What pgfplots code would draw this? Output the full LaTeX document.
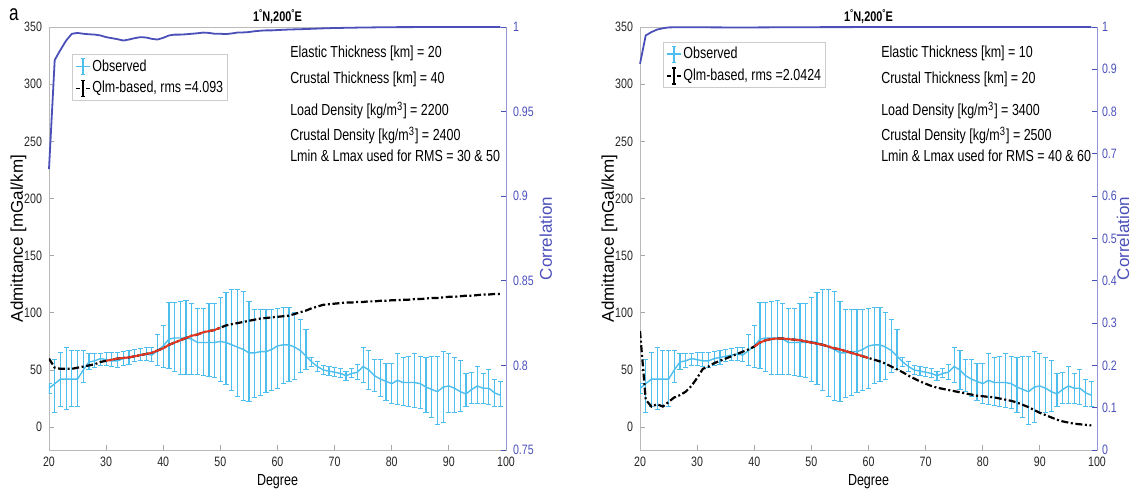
\documentclass[border=0pt]{standalone}
\usepackage{pgfplots}
\pgfplotsset{compat=1.18}
\usepackage{pgfplotstable}
\usepackage{fontspec}
\setmainfont[FakeStretch=0.78]{Liberation Sans}
\newfontfamily\ylabfont{Liberation Sans}
\definecolor{obs}{RGB}{77,190,238}
\definecolor{corr}{RGB}{75,80,185}
\definecolor{fitred}{RGB}{225,55,35}

\pgfplotstableread{
x y lo hi
20 34 29 38
21 38 13 59
22 42 18 65
23 42 15 70
24 42 18 67
25 42 18 67
26 50 39 67
27 57 50 64
28 58 52 64
29 60 54 64
30 59 54 65
31 58 53 65
32 58 52 65
33 60 54 66
34 61 55 67
35 62 57 68
36 63 58 69
37 64 58 70
38 63 57 70
39 67 54 81
40 71 52 89
41 77 51 109
42 78 49 109
43 78 46 110
44 78 46 111
45 77 46 108
46 74 46 104
47 74 45 104
48 74 44 108
49 74 43 108
50 75 40 113
51 74 37 118
52 72 32 120
53 70 27 120
54 68 23 119
55 65 22 110
56 65 26 103
57 66 28 103
58 66 30 103
59 68 32 103
60 71 34 104
61 72 38 105
62 72 40 105
63 70 42 100
64 67 48 94
65 62 50 85
66 57 53 61
67 53 49 57
68 50 46 54
69 49 45 53
70 48 44 52
71 47 43 51
72 45 41 49
73 47 43 51
74 48 42 55
75 53 39 70
76 50 33 67
77 45 31 59
78 42 27 59
79 40 23 56
80 38 21 56
81 41 20 64
82 39 19 61
83 39 18 62
84 39 17 64
85 38 16 62
86 35 13 61
87 33 8 62
88 31 2 62
89 35 4 66
90 36 13 64
91 34 13 61
92 31 14 58
93 29 18 47
94 33 21 48
95 36 21 53
96 34 21 47
97 34 20 50
98 30 18 42
99 28 18 40
}\obsdata

\pgfplotstableread{
x y
20 60
21 52
22 51
23 51
24 51
25 52
26 53
27 54
28 55
29 57
30 58
31 59
32 60
33 60.5
34 61
35 62
36 63
37 64
38 65
39 67
40 69
41 72
42 74
43 76
44 78
45 80
46 81
47 83
48 84
49 85
50 87
51 89
52 90
53 91
54 92
55 93
56 94
57 95
58 95.5
59 96
60 96.5
61 97
62 97.5
63 99
64 100.5
65 102
66 104
67 105.5
68 107
69 107.5
70 108
71 108.5
72 109
73 109
74 109.5
75 109.5
76 110
77 110
78 110.5
79 110.5
80 111
81 111
82 111.5
83 111.5
84 112
85 112
86 112.5
87 113
88 113
89 113.5
90 114
91 114
92 114.5
93 115
94 115
95 115.5
96 116
97 116
98 116.5
99 116.5
}\modelA

\pgfplotstableread{
x y
20 84
21 24
22 18
23 20
24 18
25 22
26 26
27 28
28 31
29 36
30 43
31 51
32 53
33 56
34 58
35 60
36 62
37 64
38 66
39 68
40 70.5
41 74
42 76
43 77
44 77.5
45 77.5
46 77
47 76.5
48 76
49 75
50 74
51 73
52 72
53 70.5
54 69
55 68
56 66.5
57 65
58 63.5
59 62
60 60.5
61 59
62 57.5
63 55.5
64 53
65 50.5
66 48
67 45
68 42.5
69 40
70 38
71 36
72 34.5
73 33.5
74 32.5
75 31.5
76 30.5
77 29.5
78 28.5
79 27.5
80 27
81 26.5
82 26
83 25
84 24
85 23
86 21.5
87 19.5
88 17.5
89 15
90 12.5
91 10.5
92 8.5
93 6.5
94 5
95 4
96 3
97 2.5
98 2
99 1.5
}\modelB

\pgfplotstableread{
x c
20 0.916
21 0.9805
22 0.9864
23 0.992
24 0.996
25 0.9965
26 0.996
27 0.9957
28 0.9955
29 0.995
30 0.994
31 0.9934
32 0.9928
33 0.992
34 0.9926
35 0.9934
36 0.994
37 0.9938
38 0.993
39 0.9926
40 0.9936
41 0.995
42 0.9955
43 0.9955
44 0.9957
45 0.996
46 0.9963
47 0.9967
48 0.9965
49 0.996
50 0.996
51 0.9958
52 0.9962
53 0.9967
54 0.9968
55 0.997
56 0.9975
57 0.9978
58 0.998
59 0.998
60 0.9982
62 0.9985
65 0.9988
68 0.9992
70 0.9994
75 0.9997
80 0.9999
90 1.0
99 1.0
}\corrA

\pgfplotstableread{
x c
20 0.913
21 0.98
22 0.988
23 0.994
24 0.997
25 0.999
26 0.9993
30 0.9993
35 0.999
40 0.999
45 0.9993
50 0.9996
60 0.9998
70 1.0
99 1.0
}\corrB

\pgfplotsset{
  base/.style={
    scale only axis, width=228.5pt, height=211.5pt,
    xmin=20, xmax=100, ymin=-20, ymax=350,
    xtick={20,30,...,100}, ytick={0,50,...,350},
    tick align=inside, major tick length=2.5pt,
    axis line style={gray!55, line width=0.4pt},
    tick style={gray!70, line width=0.4pt},
    ticklabel style={font=\fontsize{6.8}{7}\selectfont, text=black!85},
    xlabel style={font=\fontsize{8}{9}\selectfont, yshift=3pt},
    ylabel style={font=\ylabfont\fontsize{8.5}{9}\selectfont, yshift=-8pt},
    xlabel={Degree}, ylabel={Admittance [mGal/km]},
    ytick pos=left, xtick pos=bottom,
    /pgf/number format/assume math mode=true,
    title style={font=\bfseries\fontsize{7}{8}\selectfont, yshift=-8pt},
    title={1\raisebox{0.7ex}{\fontsize{5}{5}\selectfont °}N,200\raisebox{0.7ex}{\fontsize{5}{5}\selectfont °}E},
    legend cell align=left,
    legend style={draw=gray!40, font=\fontsize{8}{9}\selectfont, row sep=2pt, inner sep=1.5pt, nodes={inner sep=0.8pt}},
  },
  twin/.style={
    scale only axis, width=228.5pt, height=211.5pt,
    xmin=20, xmax=100, axis x line=none, axis y line*=right,
    tick align=inside, major tick length=2.5pt,
    axis line style={corr!60, line width=0.4pt},
    tick style={corr, line width=0.4pt},
    ticklabel style={font=\fontsize{6.8}{7}\selectfont, text=corr},
    ylabel style={font=\ylabfont\fontsize{8.5}{9}\selectfont, text=corr, yshift=4pt},
    /pgf/number format/assume math mode=true,
    clip=false,
  },
  obsstyle/.style={obs, line width=0.7pt, mark=none,
    error bars/.cd, y dir=both, y explicit,
    error bar style={draw=obs, line width=0.6pt},
    error mark options={draw=obs, rotate=90, mark size=1.3pt, line width=0.5pt}},
  modstyle/.style={black, line width=1.1pt, dash pattern=on 3.5pt off 1.3pt on 1pt off 1.3pt},
  obsleg/.style={legend image code/.code={
    \draw[obs,line width=0.7pt] (0pt,0pt) -- (7pt,0pt);
    \draw[obs,line width=0.6pt] (3.5pt,-4pt) -- (3.5pt,4pt) (2.5pt,-4pt) -- (4.5pt,-4pt) (2.5pt,4pt) -- (4.5pt,4pt);}},
  modleg/.style={legend image code/.code={
    \draw[black,line width=0.8pt] (0pt,0pt) -- (1.8pt,0pt) (5.2pt,0pt) -- (7pt,0pt);
    \draw[black,line width=0.6pt] (3.5pt,-4pt) -- (3.5pt,4pt) (2.5pt,-4pt) -- (4.5pt,-4pt) (2.5pt,4pt) -- (4.5pt,4pt);}},
}

\newcommand{\annot}[6]{%
  \node[anchor=west, font=\fontsize{8}{9}\selectfont] at (axis cs:61,#1) {Elastic Thickness [km] = #2};
  \node[anchor=west, font=\fontsize{8}{9}\selectfont] at (axis cs:61,#1-23) {Crustal Thickness [km] = #3};
  \node[anchor=west, font=\fontsize{8}{9}\selectfont] at (axis cs:61,#1-50) {Load Density [kg/m\textsuperscript{3}] = #4};
  \node[anchor=west, font=\fontsize{8}{9}\selectfont] at (axis cs:61,#1-72) {Crustal Density [kg/m\textsuperscript{3}] = #5};
  \node[anchor=west, font=\fontsize{8}{9}\selectfont] at (axis cs:61,#1-90) {Lmin \& Lmax used for RMS = #6};
}

\begin{document}
\begin{tikzpicture}
\useasboundingbox (0,0) rectangle (566.5pt,246pt);
\node[font=\fontsize{11}{12}\selectfont] at (7pt,238.5pt) {a};

% ---------- left panel ----------
\begin{axis}[base, at={(24.5pt,21pt)}, anchor=south west,
  legend style={at={(axis cs:24,326)}, anchor=north west}]
\addlegendimage{obsleg}
\addlegendimage{modleg}
\addplot[forget plot, obsstyle] table[x=x, y=y, y error plus expr=\thisrow{hi}-\thisrow{y}, y error minus expr=\thisrow{y}-\thisrow{lo}] {\obsdata};
\addplot[forget plot, modstyle] table[x=x, y=y] {\modelA};
\addplot[forget plot, fitred, line width=1pt, restrict x to domain=30:50] table[x=x, y=y] {\modelA};
\legend{Observed, {Qlm-based, rms =4.093}}
\annot{327}{20}{40}{2200}{2400}{30 \& 50}
\end{axis}
\begin{axis}[twin, at={(24.5pt,21pt)}, anchor=south west,
  ymin=0.75, ymax=1, ytick={0.75,0.8,0.85,0.9,0.95,1}, ylabel={Correlation}]
\addplot[corr, line width=0.9pt, mark=none] table[x=x, y=c] {\corrA};
\end{axis}

% ---------- right panel ----------
\begin{axis}[base, at={(320pt,21pt)}, anchor=south west,
  legend style={at={(axis cs:24,337)}, anchor=north west}]
\addlegendimage{obsleg}
\addlegendimage{modleg}
\addplot[forget plot, obsstyle] table[x=x, y=y, y error plus expr=\thisrow{hi}-\thisrow{y}, y error minus expr=\thisrow{y}-\thisrow{lo}] {\obsdata};
\addplot[forget plot, modstyle] table[x=x, y=y] {\modelB};
\addplot[forget plot, fitred, line width=1pt, restrict x to domain=40:60] table[x=x, y=y] {\modelB};
\legend{Observed, {Qlm-based, rms =2.0424}}
\annot{327}{10}{20}{3400}{2500}{40 \& 60}
\end{axis}
\begin{axis}[twin, at={(320pt,21pt)}, anchor=south west,
  ymin=0, ymax=1, ytick={0,0.1,0.2,0.3,0.4,0.5,0.6,0.7,0.8,0.9,1},
  yticklabel style={xshift=-1pt}]
\addplot[corr, line width=0.9pt, mark=none] table[x=x, y=c] {\corrB};
\end{axis}
\node[rotate=90, text=corr, font=\ylabfont\fontsize{8.5}{9}\selectfont, inner sep=0pt] at (561.5pt,126.75pt) {Correlation};
\end{tikzpicture}
\end{document}
